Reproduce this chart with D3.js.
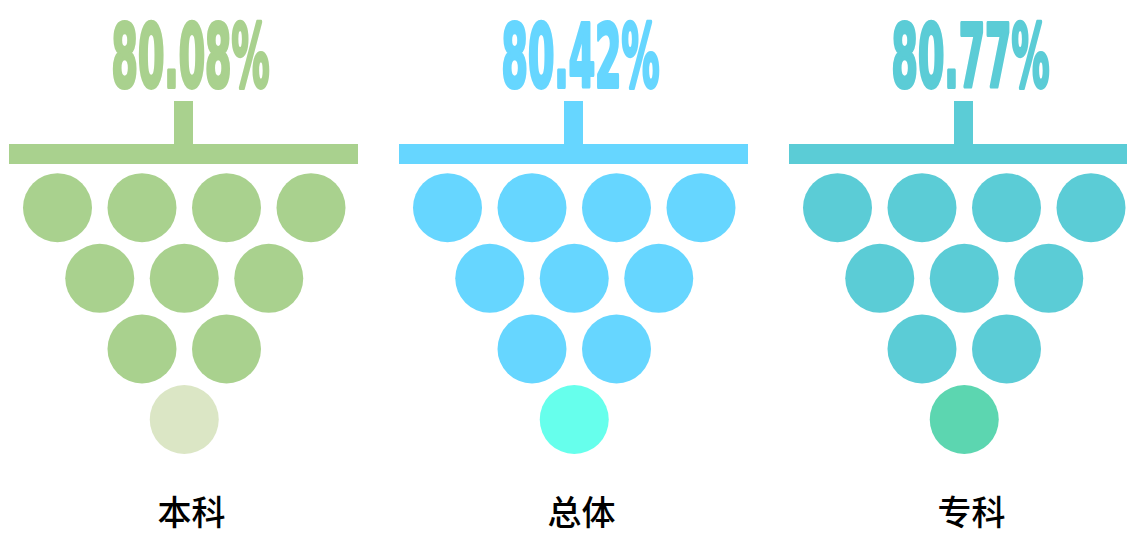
<!DOCTYPE html>
<html>
<head>
<meta charset="utf-8">
<script src="https://cdn.jsdelivr.net/npm/d3@7"></script>
<style>
  body { margin: 0; background: #fff; }
</style>
</head>
<body>
<div class="grapes"></div>
<script>
const Width = 1127, Height = 537;

// data
const categories = ["本科", "总体", "专科"];
const rates = [80.08, 80.42, 80.77];
const mainColors = ["#a9d18e", "#66d6ff", "#5bccd6"];
const lastColors = ["#dbe6c5", "#66ffec", "#5cd6b0"];
const rowCounts = [4, 3, 2, 1];   // dots per row, top to bottom

var svg = d3.select(".grapes").append("svg")
    .attr("width", Width)
    .attr("height", Height);

// scales
const x = d3.scaleBand().domain(categories).range([-11.5, 1158.5]);
const col = d3.scaleLinear().domain([0, 1]).range([0, 84.5]);
const row = d3.scaleLinear().domain([0, rowCounts.length - 1]).range([207.7, 419.5]);
const R = 34.5;

categories.forEach(function(cat, i) {
  const cx = x(cat) + x.bandwidth() / 2;
  const g = svg.append("g");

  // percentage text (condensed look)
  const t = g.append("text")
      .attr("x", 0)
      .attr("y", 0)
      .style("font-family", "'DejaVu Sans Condensed', 'DejaVu Sans', sans-serif")
      .style("font-weight", "bold")
      .style("font-size", "88px")
      .style("fill", mainColors[i])
      .style("stroke", mainColors[i])
      .style("stroke-width", 4)
      .style("stroke-linejoin", "round")
      .text(rates[i].toFixed(2) + "%");
  const w = t.node().getComputedTextLength();
  const sx = 158 / w;
  t.attr("transform", "translate(" + (cx + 7 - w * sx / 2) + ",87) scale(" + sx + ",1)");

  // stem and bar
  g.append("rect")
      .attr("x", cx - 9.5).attr("y", 101)
      .attr("width", 19).attr("height", 44)
      .style("fill", mainColors[i]);
  g.append("rect")
      .attr("x", cx - 174.5).attr("y", 144)
      .attr("width", 349).attr("height", 20)
      .style("fill", mainColors[i]);

  // dots
  var dots = [];
  rowCounts.forEach(function(n, r) {
    for (var k = 0; k < n; k++) dots.push({ r: r, k: k, n: n });
  });
  g.selectAll("circle")
    .data(dots)
    .enter().append("circle")
      .attr("cx", d => cx + 0.75 + col(d.k - (d.n - 1) / 2))
      .attr("cy", d => row(d.r))
      .attr("r", R)
      .style("fill", (d, j) => j === dots.length - 1 ? lastColors[i] : mainColors[i]);

  // label
  g.append("text")
      .attr("x", cx + 8)
      .attr("y", 525)
      .attr("text-anchor", "middle")
      .style("font-family", "'Noto Sans CJK SC', sans-serif")
      .style("font-weight", 500)
      .style("font-size", "34px")
      .style("fill", "#000")
      .text(cat);
});
</script>
</body>
</html>
